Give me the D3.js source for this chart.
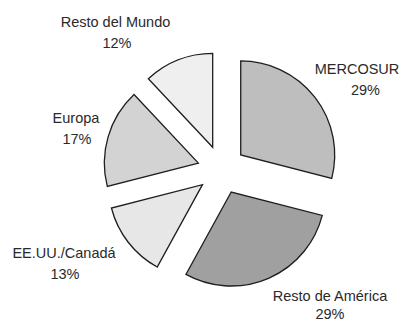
<!DOCTYPE html>
<html>
<head>
<meta charset="utf-8">
<script src="https://cdn.jsdelivr.net/npm/d3@7"></script>
<style>
  html, body { margin: 0; padding: 0; background: #ffffff; }
  svg { display: block; }
  text { font-family: "Liberation Sans", Arial, sans-serif; font-size: 14.5px; fill: #2a2a2a; }
</style>
</head>
<body>
<svg id="chart" width="399" height="323"></svg>
<script>
// Share by region (percent), clockwise from 12 o'clock
const regions = ["MERCOSUR", "Resto de América", "EE.UU./Canadá", "Europa", "Resto del Mundo"];
const shares = [29, 29, 13, 17, 12];
const fills = ["#bebebe", "#a0a0a1", "#e6e7e6", "#d3d3d4", "#efefef"];
// label anchor points: centre x of the name line, centre x of the value line, first baseline y
const nameX = [357, 330, 64, 76, 115.5];
const valueX = [365.5, 330, 65, 77, 117];
const labelY = [74, 300.5, 258, 122.5, 27.3];
const lineGap = [21, 18.5, 21, 21, 21];

const svg = d3.select("#chart");
const cx = 221.6, cy = 169.8, radius = 94, explode = 24.2;

const pie = d3.pie().sort(null).value(d => d)(shares);
const arc = d3.arc().innerRadius(0).outerRadius(radius);

const g = svg.append("g").attr("transform", `translate(${cx},${cy})`);

g.selectAll("path.slice")
  .data(pie)
  .join("path")
  .attr("class", "slice")
  .attr("transform", d => {
    const a = (d.startAngle + d.endAngle) / 2;
    return `translate(${Math.sin(a) * explode},${-Math.cos(a) * explode})`;
  })
  .attr("d", arc)
  .attr("fill", (d, i) => fills[i])
  .attr("stroke", "#1e1e1e")
  .attr("stroke-width", 1.3)
  .attr("stroke-linejoin", "miter");

const labels = svg.selectAll("text.lbl")
  .data(pie)
  .join("text")
  .attr("class", "lbl")
  .attr("text-anchor", "middle")
  .attr("y", (d, i) => labelY[i]);

labels.append("tspan")
  .attr("x", (d, i) => nameX[i])
  .text((d, i) => regions[i]);
labels.append("tspan")
  .attr("x", (d, i) => valueX[i])
  .attr("dy", (d, i) => lineGap[i])
  .text(d => d.data + "%");
</script>
</body>
</html>
